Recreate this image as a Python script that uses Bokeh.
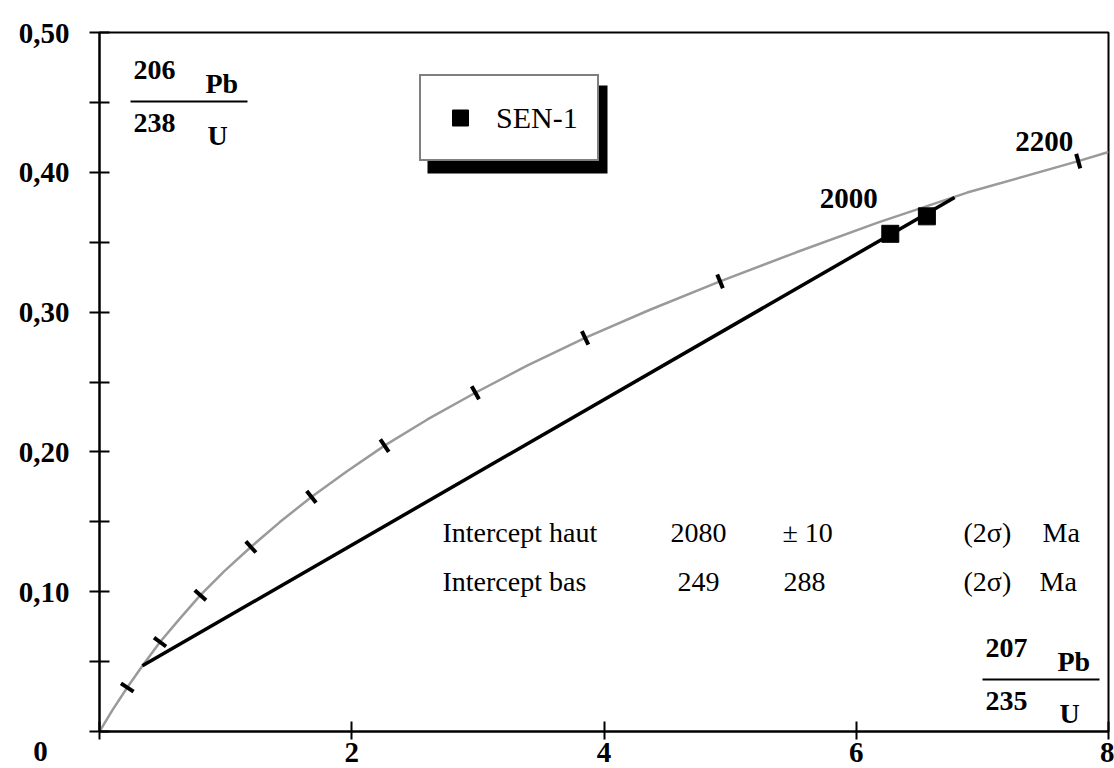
import numpy as np
from bokeh.plotting import figure
from bokeh.models import (Range1d, FixedTicker, CustomJSTickFormatter, Label,
                          BoxAnnotation, Legend, LegendItem)
from bokeh.embed import file_html
from bokeh.resources import INLINE

# ---------------- data ----------------
# Concordia curve (207Pb/235U, 206Pb/238U)
conc_x = [0, 0.105, 0.22, 0.345, 0.48, 0.637, 0.80, 0.99, 1.20, 1.43, 1.68, 1.96,
          2.26, 2.60, 2.98, 3.39, 3.85, 4.36, 4.92, 5.52, 6.17, 6.88, 7.76, 8.0]
conc_y = [0, 0.0156, 0.0315, 0.0476, 0.064, 0.0807, 0.0975, 0.1147, 0.132, 0.1498,
          0.1678, 0.186, 0.2045, 0.2232, 0.2423, 0.2617, 0.2815, 0.3015, 0.322,
          0.3426, 0.364, 0.3855, 0.408, 0.4145]
# age marks on the concordia (200 Ma steps)
tick_x = [0.22, 0.48, 0.80, 1.20, 1.68, 2.26, 2.98, 3.85, 4.92, 7.76]
tick_y = [0.0315, 0.064, 0.0975, 0.132, 0.1678, 0.2045, 0.2423, 0.2815, 0.322, 0.408]
age_labels = ["2000", "2200"]
age_label_x = [5.94, 7.49]
age_label_y = [0.381, 0.422]
# discordia line (lower and upper intercept ends)
disc_x = [0.34, 6.78]
disc_y = [0.047, 0.382]
# SEN-1 analyses
sen_x = [6.27, 6.56]
sen_y = [0.356, 0.3685]

x_ticks = [0, 2, 4, 6, 8]
y_ticks = [0, 0.1, 0.2, 0.3, 0.4, 0.5]
y_minor = [0.05, 0.15, 0.25, 0.35, 0.45]

row_names = ["Intercept haut", "Intercept bas"]
row_values = ["2080", "249"]
row_errors = ["\u00b1 10", "288"]
row_sigma = ["(2\u03c3)", "(2\u03c3)"]
row_unit = ["Ma", "Ma"]

# ---------------- layout helpers (picture pixel -> data) ----------------
X0, X8 = 99, 1108
Y0, Y50 = 731, 32
def dx(X):
    return (X - X0) / (X8 - X0) * 8
def dy(Y):
    return (Y0 - Y) / (Y0 - Y50) * 0.5

SERIF = "Liberation Serif"

p = figure(width=1114, height=768, output_backend="svg", toolbar_location=None,
           x_range=Range1d(0, 8), y_range=Range1d(0, 0.5),
           min_border_left=X0, min_border_right=1114 - X8, min_border_top=Y50,
           min_border_bottom=768 - Y0, background_fill_color="white",
           border_fill_color="white")
p.grid.visible = False
p.outline_line_color = "black"
p.outline_line_width = 2

# axes
xa = p.xaxis[0]
xa.ticker = FixedTicker(ticks=x_ticks)
xa.formatter = CustomJSTickFormatter(code="return tick == 0 ? '' : tick.toFixed(0);")
xa.major_tick_in = 10
xa.major_tick_out = 8
xa.minor_tick_in = 0
xa.minor_tick_out = 0
xa.major_label_standoff = 3
xa.axis_line_width = 2
xa.major_tick_line_width = 2
xa.major_label_text_font = SERIF
xa.major_label_text_font_style = "bold"
xa.major_label_text_font_size = "29px"
xa.major_label_text_color = "black"

ya = p.yaxis[0]
ya.ticker = FixedTicker(ticks=y_ticks, minor_ticks=y_minor)
ya.formatter = CustomJSTickFormatter(
    code="return tick == 0 ? '\\n0\\u00a0\\u00a0\\u00a0' : tick.toFixed(2).replace('.', ',');")
ya.major_tick_in = 10
ya.major_tick_out = 10
ya.minor_tick_in = 10
ya.minor_tick_out = 10
ya.major_tick_line_width = 2
ya.minor_tick_line_width = 2
ya.minor_tick_line_color = "black"
ya.axis_line_width = 2
ya.major_label_standoff = 20
ya.major_label_text_font = SERIF
ya.major_label_text_font_style = "bold"
ya.major_label_text_font_size = "29px"
ya.major_label_text_color = "black"

# concordia
p.line(conc_x, conc_y, line_color="#9a9a9a", line_width=2.5)

# age marks, perpendicular to the curve in screen space
sx_scale = (X8 - X0) / 8
sy_scale = (Y0 - Y50) / 0.5
cx = np.array(conc_x); cy = np.array(conc_y)
angles = []
for tx in tick_x:
    i = int(np.clip(np.searchsorted(cx, tx) - 1, 0, len(cx) - 2))
    ang = np.arctan2((cy[i + 1] - cy[i]) * sy_scale, (cx[i + 1] - cx[i]) * sx_scale)
    angles.append(ang + np.pi / 2)
p.scatter(tick_x, tick_y, marker="dash", size=15, angle=angles,
          line_color="black", line_width=4)

# discordia
p.line(disc_x, disc_y, line_color="black", line_width=3.5)

# SEN-1 points
sen = p.scatter(sen_x, sen_y, marker="square", size=17, fill_color="black",
                line_color="black")

# age labels
for t, x, y in zip(age_labels, age_label_x, age_label_y):
    p.add_layout(Label(x=x, y=y, text=t, text_font=SERIF, text_font_style="bold",
                       text_font_size="29px", text_align="center",
                       text_baseline="middle", text_color="black"))

# ratio labels
def ratio(num, den, X, Y):
    # X: left of the fraction bar, Y: y of fraction bar
    kw = dict(text_font=SERIF, text_font_style="bold", text_font_size="28px",
              text_baseline="middle", text_color="black")
    p.add_layout(Label(x=dx(X + 3), y=dy(Y - 32), text=num, **kw))
    p.add_layout(Label(x=dx(X + 75), y=dy(Y - 18), text="Pb", **kw))
    p.add_layout(BoxAnnotation(left=dx(X), right=dx(X + 117), top=dy(Y - 1),
                               bottom=dy(Y + 1), fill_color="black", fill_alpha=1,
                               line_alpha=0))
    p.add_layout(Label(x=dx(X + 3), y=dy(Y + 21), text=den[0], **kw))
    p.add_layout(Label(x=dx(X + 77), y=dy(Y + 34), text=den[1], **kw))

ratio("206", ("238", "U"), 130, 101)
ratio("207", ("235", "U"), 982, 679)

# intercept table
row_Y = [532, 581]
col_X = [[442, 670, 782, 963, 1042], [442, 677, 783, 963, 1039]]
for r in range(2):
    texts = [row_names[r], row_values[r], row_errors[r], row_sigma[r], row_unit[r]]
    for t, X in zip(texts, col_X[r]):
        p.add_layout(Label(x=dx(X), y=dy(row_Y[r]), text=t, text_font=SERIF,
                           text_font_size="28px", text_baseline="middle",
                           text_color="black"))

# legend with drop shadow
p.add_layout(BoxAnnotation(left=dx(427), right=dx(607), top=dy(85), bottom=dy(173),
                           fill_color="black", fill_alpha=1, line_alpha=0))
legend = Legend(items=[LegendItem(label="SEN-1", renderers=[sen])],
                location=(419 - X0, Y0 - 161), margin=0, padding=19,
                glyph_width=40, glyph_height=45, label_standoff=16,
                border_line_color="black", border_line_width=2,
                background_fill_color="white", background_fill_alpha=1,
                label_text_font=SERIF, label_text_font_size="30px",
                label_text_color="black")
p.add_layout(legend, "center")

open("out.html", "w").write(file_html(p, INLINE))
